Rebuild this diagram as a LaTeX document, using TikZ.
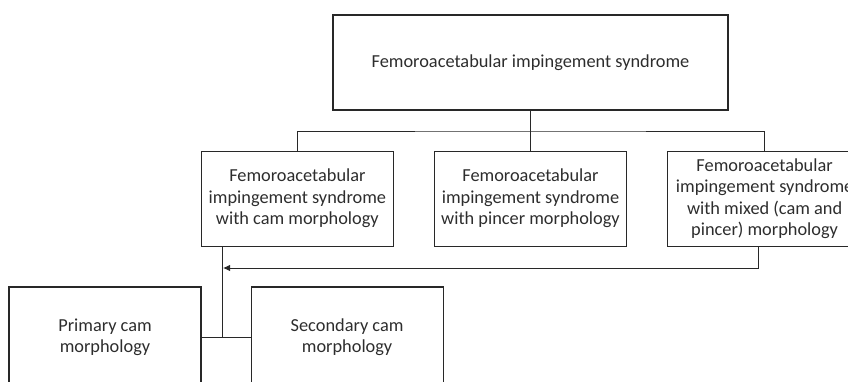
\documentclass[tikz,border=0pt]{standalone}
\usepackage{fontspec}
\setmainfont{Carlito}
\usetikzlibrary{arrows.meta,positioning}
\definecolor{linegray}{RGB}{40,40,40}
\definecolor{textgray}{RGB}{45,45,45}

\begin{document}
\begin{tikzpicture}[
  x=1bp, y=-1bp,
  font=\fontsize{18.4}{21.5}\selectfont,
  box/.style={draw=linegray, line width=1.1bp, text=textgray,
    align=center, inner sep=2bp},
  level/.style={box, minimum width=192bp, minimum height=95bp},
  leaf/.style={box, minimum width=192bp, minimum height=100bp},
  conn/.style={draw=linegray, line width=0.9bp},
  arr/.style={conn, -{Latex[length=7bp,width=6.5bp]}}
]
\useasboundingbox (0,0) rectangle (848,381);
\node[box, minimum width=395bp, minimum height=95bp] (fais) at (530.5,62.5) {Femoroacetabular impingement syndrome};

\node[level, below=40bp of fais] (pincer) {Femoroacetabular\\impingement syndrome\\with pincer morphology};
\node[level, left=40bp of pincer] (cam) {Femoroacetabular\\impingement syndrome\\with cam morphology};
\node[level, right=40bp of pincer, minimum width=194bp] (mixed) {Femoroacetabular\\impingement syndrome\\with mixed (cam and\\pincer) morphology};

\node[leaf] (primary) at (105,337) {Primary cam\\morphology};
\node[leaf, right=49bp of primary] (secondary) {Secondary cam\\morphology};

\coordinate (bus) at (530,131);
\coordinate (merge) at (223,268);
\coordinate (split) at (222,337);

\draw[conn] (fais) -- (pincer);
\draw[conn] (cam.north) |- (bus) -| (mixed.north);
\draw[arr] ([xshift=-6bp]mixed.south) |- (merge);
\draw[conn] (cam.south -| split) -- (split);
\draw[conn] (primary) -- (secondary);
\end{tikzpicture}
\end{document}
